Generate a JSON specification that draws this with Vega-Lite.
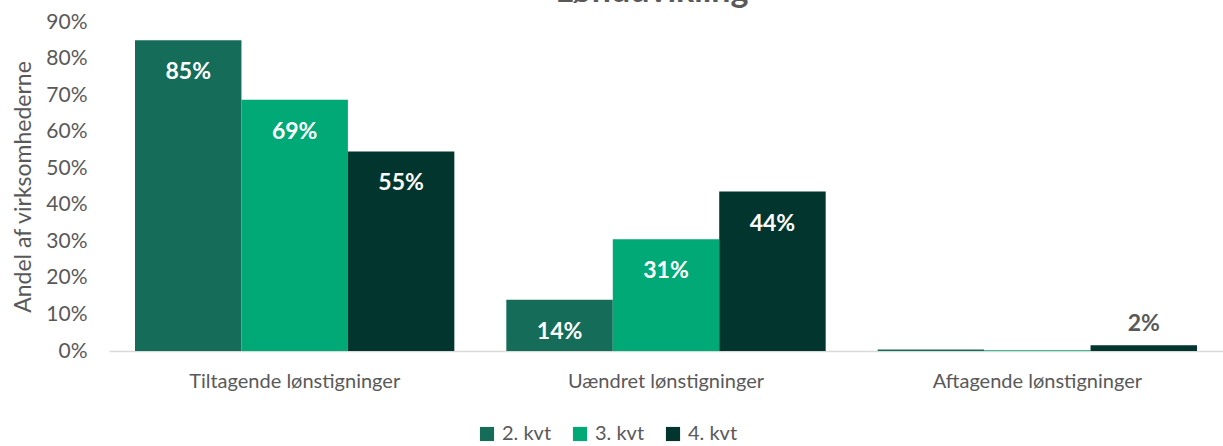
{
  "$schema": "https://vega.github.io/schema/vega-lite/v6.json",
  "width": 1114,
  "height": 329,
  "autosize": {"type": "none"},
  "padding": {"left": 109, "top": 22, "right": 0, "bottom": 95},
  "background": "white",
  "title": {"text": "Lønudvikling", "font": "Lato", "fontSize": 34, "fontWeight": "bold", "color": "#595959", "anchor": "middle", "dx": -14, "offset": 0, "baseline": "bottom", "dy": 32},
  "config": {
    "view": {"stroke": null},
    "font": "Lato",
    "axis": {"labelFont": "Lato", "titleFont": "Lato", "labelColor": "#595959", "titleColor": "#595959"}
  },
  "data": {
    "values": [
      {"kategori": "Tiltagende lønstigninger", "kvartal": "2. kvt", "andel": 0.85},
      {"kategori": "Tiltagende lønstigninger", "kvartal": "3. kvt", "andel": 0.687},
      {"kategori": "Tiltagende lønstigninger", "kvartal": "4. kvt", "andel": 0.546},
      {"kategori": "Uændret lønstigninger", "kvartal": "2. kvt", "andel": 0.14},
      {"kategori": "Uændret lønstigninger", "kvartal": "3. kvt", "andel": 0.306},
      {"kategori": "Uændret lønstigninger", "kvartal": "4. kvt", "andel": 0.436},
      {"kategori": "Aftagende lønstigninger", "kvartal": "2. kvt", "andel": 0.004},
      {"kategori": "Aftagende lønstigninger", "kvartal": "3. kvt", "andel": 0.002},
      {"kategori": "Aftagende lønstigninger", "kvartal": "4. kvt", "andel": 0.016}
    ]
  },
  "encoding": {
    "x": {"field": "kategori", "type": "nominal", "sort": null,
      "scale": {"paddingInner": 0.14, "paddingOuter": 0.07},
      "axis": {"title": null, "labelAngle": 0, "labelFontSize": 20, "labelLimit": 0, "labelPadding": 20, "ticks": false, "domainColor": "#d9d9d9", "domainWidth": 1.5, "grid": false}},
    "xOffset": {"field": "kvartal", "type": "nominal", "sort": ["2. kvt", "3. kvt", "4. kvt"], "scale": {"paddingInner": 0, "paddingOuter": 0}},
    "y": {"field": "andel", "type": "quantitative",
      "scale": {"domain": [0, 0.9]},
      "axis": {"title": "Andel af virksomhederne", "titleFontSize": 23, "titleFontWeight": "normal", "titlePadding": 10, "format": ".0%", "values": [0, 0.1, 0.2, 0.3, 0.4, 0.5, 0.6, 0.7, 0.8, 0.9], "labelFontSize": 21, "labelPadding": 22, "ticks": false, "domain": false, "grid": false}}
  },
  "layer": [
    {
      "mark": {"type": "bar"},
      "encoding": {
        "color": {"field": "kvartal", "type": "nominal", "sort": ["2. kvt", "3. kvt", "4. kvt"],
          "scale": {"domain": ["2. kvt", "3. kvt", "4. kvt"], "range": ["#146C59", "#00A976", "#02352D"]},
          "legend": {"title": null, "orient": "none", "legendX": 368, "legendY": 402, "direction": "horizontal", "symbolType": "square", "symbolSize": 200, "symbolStrokeWidth": 0, "labelFontSize": 20, "labelColor": "#595959", "labelFont": "Lato", "columnPadding": 18, "labelOffset": 5}}
      }
    },
    {
      "transform": [{"filter": "datum.andel >= 0.05"}],
      "mark": {"type": "text", "color": "white", "fontWeight": "bold", "fontSize": 23, "baseline": "middle", "dy": 32, "font": "Lato"},
      "encoding": {"text": {"field": "andel", "format": ".0%"}}
    },
    {
      "transform": [{"filter": "datum.andel >= 0.01 && datum.andel < 0.05"}],
      "mark": {"type": "text", "color": "#595959", "fontWeight": "bold", "fontSize": 23, "baseline": "middle", "dy": -21, "font": "Lato"},
      "encoding": {"text": {"field": "andel", "format": ".0%"}}
    }
  ]
}
